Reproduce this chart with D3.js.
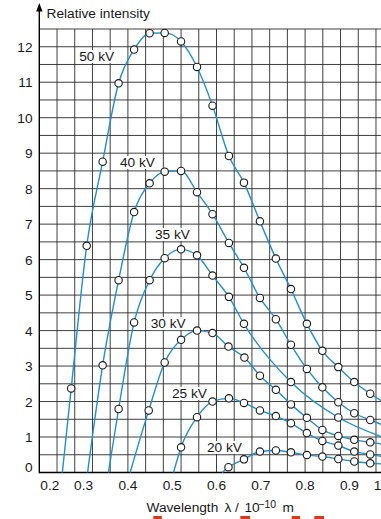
<!DOCTYPE html>
<html>
<head>
<meta charset="utf-8">
<script src="https://cdn.jsdelivr.net/npm/d3@7"></script>
<style>
  body { margin: 0; background: #fff; }
  svg text { font-family: "Liberation Sans", Arial, sans-serif; font-size: 13.7px; fill: #1a1a1a; }
</style>
</head>
<body>
<svg id="chart" width="381" height="519"></svg>
<script>
// Data //
var voltages = ["50 kV", "40 kV", "35 kV", "30 kV", "25 kV", "20 kV"];
var lambdaMin = [0.252, 0.309, 0.356, 0.405, 0.503, 0.613];   // curve meets zero here
var tailLambda = 0.975;                                          // curves run off the right edge
var tailValue = [2.0, 1.34, 1.0, 0.8, 0.45, 0.24];

var pts50 = [[0.272,2.37],[0.307,6.39],[0.343,8.76],[0.379,10.97],[0.414,11.92],[0.449,12.38],
             [0.483,12.39],[0.520,12.15],[0.556,11.43],[0.591,10.34],[0.628,8.92],[0.662,8.17],
             [0.698,7.08],[0.734,6.03],[0.768,5.17],[0.804,4.19],[0.839,3.43],[0.875,2.97],
             [0.911,2.55],[0.947,2.22]];
var pts40 = [[0.343,3.02],[0.379,5.42],[0.414,7.34],[0.449,8.15],[0.483,8.48],[0.520,8.50],
             [0.556,7.90],[0.591,7.28],[0.628,6.47],[0.662,5.77],[0.698,4.92],[0.734,4.32],
             [0.768,3.60],[0.804,2.92],[0.839,2.40],[0.875,1.98],[0.911,1.67],[0.947,1.48]];
var pts35 = [[0.379,1.79],[0.414,4.23],[0.449,5.42],[0.483,6.04],[0.520,6.29],[0.556,6.12],
             [0.591,5.55],[0.628,4.95],[0.662,4.19],[0.768,2.55],[0.875,1.55]];
var pts30 = [[0.447,1.75],[0.483,3.10],[0.520,3.74],[0.556,4.00],[0.591,3.93],[0.627,3.55],
             [0.663,3.24],[0.698,2.73],[0.734,2.33],[0.768,1.92],[0.804,1.54],[0.839,1.20],
             [0.875,1.03],[0.911,0.92],[0.947,0.85]];
var pts25 = [[0.520,0.71],[0.556,1.56],[0.591,2.00],[0.628,2.09],[0.662,1.96],[0.698,1.75],
             [0.734,1.59],[0.768,1.39],[0.804,1.11],[0.839,0.89],[0.875,0.76],[0.911,0.59],
             [0.947,0.51]];
var pts20 = [[0.627,0.15],[0.662,0.37],[0.698,0.59],[0.734,0.62],[0.768,0.57],[0.804,0.49],
             [0.839,0.45],[0.875,0.38],[0.911,0.31],[0.947,0.26]];
var measured = [pts50, pts40, pts35, pts30, pts25, pts20];

var yTicks = [0,1,2,3,4,5,6,7,8,9,10,11,12];
var xTicks = [0.2,0.3,0.4,0.5,0.6,0.7,0.8,0.9,1.0];
var xTickText = ["0.2","0.3","0.4","0.5","0.6","0.7","0.8","0.9","1"];

// where each kV label starts (data coords, baseline)
var labelAt = [[0.290,11.6],[0.382,8.61],[0.461,6.58],[0.4515,4.07],[0.4995,2.10],[0.5785,0.58]];

var svg = d3.select("#chart");
var W = +svg.attr("width");

var x = d3.scaleLinear().domain([0.2, 1.0]).range([39.3, 393.7]);
var y = d3.scaleLinear().domain([0, 12.5]).range([472.5, 29]);

//grid, square cells of 0.04 x 0.5
var grid = svg.append("g").attr("stroke", "#2a2a2a").attr("stroke-width", 0.9);
grid.selectAll(".h").data(d3.range(0, 12.51, 0.5)).enter().append("line")
    .attr("x1", x(0.2)).attr("x2", W)
    .attr("y1", function(d) { return y(d); }).attr("y2", function(d) { return y(d); });
grid.selectAll(".v").data(d3.range(1, 20).map(function(k) { return 0.2 + 0.04 * k; })).enter().append("line")
    .attr("y1", y(0)).attr("y2", y(12.5))
    .attr("x1", function(d) { return x(d); }).attr("x2", function(d) { return x(d); });

//axes
svg.append("line").attr("x1", x(0.2)).attr("x2", W).attr("y1", y(0)).attr("y2", y(0))
    .attr("stroke", "#000").attr("stroke-width", 1.4);
svg.append("line").attr("x1", x(0.2)).attr("x2", x(0.2)).attr("y1", 9).attr("y2", y(0) + 0.7)
    .attr("stroke", "#000").attr("stroke-width", 1.4);
svg.append("path")
    .attr("d", "M" + x(0.2) + ",3 l-3.2,8.5 h6.4 Z")
    .attr("fill", "#000");

//curves
var line = d3.line()
    .x(function(d) { return x(d[0]); })
    .y(function(d) { return y(d[1]); })
    .curve(d3.curveMonotoneX);

var curves = measured.map(function(p, i) {
    return [[lambdaMin[i], 0]].concat(p).concat([[tailLambda, tailValue[i]]]);
});

svg.append("g").selectAll("path").data(curves).enter().append("path")
    .attr("d", line)
    .attr("fill", "none")
    .attr("stroke", "#1f8fd2")
    .attr("stroke-width", 1.4);

//labels with white backing
var lab = svg.append("g").selectAll("g").data(voltages).enter().append("g");
lab.append("text")
    .attr("x", function(d, i) { return x(labelAt[i][0]); })
    .attr("y", function(d, i) { return y(labelAt[i][1]); })
    .text(function(d) { return d; });
lab.each(function() {
    var g = d3.select(this), b = g.select("text").node().getBBox();
    g.insert("rect", "text").attr("x", b.x - 1.5).attr("y", b.y + 1).attr("width", b.width + 3)
        .attr("height", b.height - 2).attr("fill", "#fff");
});

//markers
var allPts = [];
measured.forEach(function(p) { p.forEach(function(q) { allPts.push(q); }); });
svg.append("g").selectAll("circle").data(allPts).enter().append("circle")
    .attr("cx", function(d) { return x(d[0]); })
    .attr("cy", function(d) { return y(d[1]); })
    .attr("r", 3.7)
    .attr("fill", "#fff")
    .attr("stroke", "#1a1a1a")
    .attr("stroke-width", 1.1);

//tick labels
svg.append("g").selectAll("text").data(yTicks).enter().append("text")
    .attr("x", 32.5)
    .attr("y", function(d) { return y(d) + (d === 0 ? -0.5 : 5); })
    .attr("text-anchor", "end")
    .text(function(d) { return d; });

svg.append("g").selectAll("text").data(xTicks).enter().append("text")
    .attr("x", function(d, i) {
        if (i === 0) return x(d) + 10.5;
        if (i === xTicks.length - 1) return x(d) - 20;
        return x(d);
    })
    .attr("y", 490)
    .attr("text-anchor", function(d, i) { return i === xTicks.length - 1 ? "start" : "middle"; })
    .text(function(d, i) { return xTickText[i]; });

//titles
svg.append("text").attr("x", 46.5).attr("y", 17.5).text("Relative intensity");

var xl = svg.append("text").attr("y", 511.5);
xl.append("tspan").attr("x", 146.5).text("Wavelength");
xl.append("tspan").attr("x", 224.5).text("λ");
xl.append("tspan").attr("x", 235).text("/");
xl.append("tspan").attr("x", 244.5).text("10");
xl.append("tspan").attr("x", 258.3).attr("y", 507.5).style("font-size", "10.5px").text("−10");
xl.append("tspan").attr("x", 282.5).attr("y", 511.5).text("m");

//red marks under the axis title
svg.append("g").attr("fill", "#d63a1c").selectAll("rect")
    .data([[153.3, 8.5], [240.3, 9.7], [291.7, 8.3], [314.3, 9.7]]).enter().append("rect")
    .attr("x", function(d) { return d[0]; }).attr("y", 516)
    .attr("width", function(d) { return d[1]; }).attr("height", 3.5);
</script>
</body>
</html>
